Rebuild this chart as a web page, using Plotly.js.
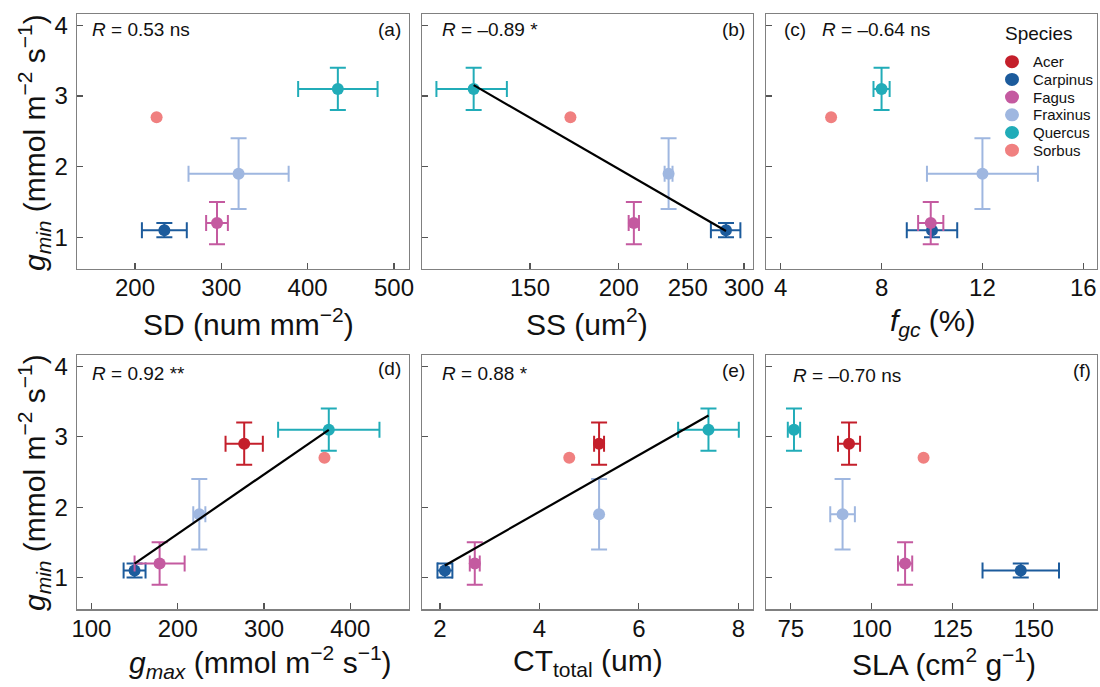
<!DOCTYPE html>
<html>
<head>
<meta charset="utf-8">
<script src="https://cdn.plot.ly/plotly-3.0.1.min.js"></script>
<style>
  html, body { margin: 0; padding: 0; background: #ffffff; }
  #chart { width: 1100px; height: 687px; }
</style>
</head>
<body>
<div id="chart"></div>
<script>
// Species and their colours
const species = ['Acer', 'Carpinus', 'Fagus', 'Fraxinus', 'Quercus', 'Sorbus'];
const speciesColors = ['#c41f2b', '#1c5b9c', '#c45aa0', '#9fb7e0', '#21acb8', '#f08080'];

// Minimum leaf conductance (response variable) with its error
const gmin    = [2.9, 1.1, 1.2, 1.9, 3.1, 2.7];
const gminErr = [0.3, 0.1, 0.3, 0.5, 0.3, null];

// Stomatal density (num mm-2)
const SD    = [null, 234, 295, 320, 435, 225];
const SDErr = [null, 26, 12.6, 58, 46, null];

// Stomatal size (um2)
const SS    = [null, 283, 210, 235, 125, 171];
const SSErr = [null, 13.5, 3.5, 3, 14.2, null];

// Fraction of guard cell (%)
const fgc    = [null, 10.0, 9.95, 12.0, 8.0, 6.0];
const fgcErr = [null, 1.0, 0.5, 2.2, 0.32, null];

// Maximum stomatal conductance (mmol m-2 s-1)
const gmax    = [277, 150, 179, 225, 375, 370];
const gmaxErr = [21.6, 12.7, 29, 7, 58.7, null];

// Total cuticle thickness (um)
const CT    = [5.2, 2.1, 2.7, 5.2, 7.4, 4.6];
const CTErr = [0.1, 0.15, 0.1, 0, 0.61, null];

// Specific leaf area (cm2 g-1)
const SLA    = [93, 146, 110.3, 91, 76, 116];
const SLAErr = [3.4, 11.8, 2.2, 3.8, 1.9, null];

// Correlation statistics and panel tags
const panelTags = ['(a)', '(b)', '(c)', '(d)', '(e)', '(f)'];
const rText = ['0.53 ns', '\u20130.89 *', '\u20130.64 ns', '0.92 **', '0.88 *', '\u20130.70 ns'];

// Tick values of each x axis
const ticksSD  = [200, 300, 400, 500];
const ticksSS  = [150, 200, 250, 300];
const ticksFgc = [4, 8, 12, 16];
const ticksGmax = [100, 200, 300, 400];
const ticksCT  = [2, 4, 6, 8];
const ticksSLA = [75, 100, 125, 150];
const ticksGmin = [1, 2, 3, 4];

const FONT = 'Liberation Sans, Arial, Helvetica, sans-serif';
const TXT = '#111111';
const W = 1100, H = 687;

const panels = [
  { x: SD,   ex: SDErr,   fit: null },
  { x: SS,   ex: SSErr,   fit: 'log' },
  { x: fgc,  ex: fgcErr,  fit: null },
  { x: gmax, ex: gmaxErr, fit: 'lin' },
  { x: CT,   ex: CTErr,   fit: 'lin' },
  { x: SLA,  ex: SLAErr,  fit: null }
];

// least-squares line of gmin on x (or log10 x), spanning the observed x range
function fitLine(xs, ys, mode) {
  const px = [], py = [];
  xs.forEach((v, i) => { if (v != null) { px.push(v); py.push(ys[i]); } });
  const tx = px.map(v => mode === 'log' ? Math.log10(v) : v);
  const n = tx.length;
  const mx = tx.reduce((a, b) => a + b, 0) / n;
  const my = py.reduce((a, b) => a + b, 0) / n;
  let sxy = 0, sxx = 0;
  for (let i = 0; i < n; i++) { sxy += (tx[i] - mx) * (py[i] - my); sxx += (tx[i] - mx) ** 2; }
  const b = sxy / sxx, a = my - b * mx;
  const lo = Math.min(...px), hi = Math.max(...px);
  const f = v => a + b * (mode === 'log' ? Math.log10(v) : v);
  return { x: [lo, hi], y: [f(lo), f(hi)] };
}

const traces = [];
panels.forEach((p, k) => {
  const xa = k === 0 ? 'x' : 'x' + (k + 1);
  const ya = k === 0 ? 'y' : 'y' + (k + 1);
  species.forEach((sp, i) => {
    if (p.x[i] == null) return;
    const hasErr = p.ex[i] != null;
    traces.push({
      type: 'scatter', mode: 'markers',
      x: [p.x[i]], y: [gmin[i]],
      xaxis: xa, yaxis: ya,
      name: sp, showlegend: false,
      marker: { color: speciesColors[i], size: 12, line: { width: 0 } },
      error_x: { type: 'data', array: [hasErr ? p.ex[i] : 0], visible: hasErr,
                 color: speciesColors[i], thickness: 2, width: 8 },
      error_y: { type: 'data', array: [gminErr[i] != null ? gminErr[i] : 0], visible: gminErr[i] != null,
                 color: speciesColors[i], thickness: 2, width: 8 },
      hoverinfo: 'skip'
    });
  });
  if (p.fit) {
    const l = fitLine(p.x, gmin, p.fit);
    traces.push({
      type: 'scatter', mode: 'lines', x: l.x, y: l.y, xaxis: xa, yaxis: ya,
      line: { color: '#000000', width: 2.2 }, showlegend: false, hoverinfo: 'skip'
    });
  }
});

const colDom = [[0.0700, 0.3718], [0.3836, 0.6843], [0.6964, 0.9970]];
const rowDom = [[0.6084, 0.9796], [0.1131, 0.4833]];

function axisBase() {
  return {
    showgrid: false, zeroline: false,
    showline: true, mirror: true, linecolor: '#808080', linewidth: 1.4,
    ticks: 'inside', ticklen: 6, tickwidth: 1.2, tickcolor: '#555555',
    tickmode: 'array',
    tickfont: { family: FONT, size: 24, color: TXT },
    fixedrange: true
  };
}

const xRanges = [[132.8, 517.4], [2.0242, 2.4894], [3.42, 16.53], [83.3, 467.9], [1.638, 8.29], [67.38, 169.44]];
const xTicks = [ticksSD, ticksSS, ticksFgc, ticksGmax, ticksCT, ticksSLA];

const layout = {
  width: W, height: H,
  margin: { l: 0, r: 0, t: 0, b: 0 },
  paper_bgcolor: '#ffffff', plot_bgcolor: '#ffffff',
  font: { family: FONT, color: TXT },
  showlegend: false,
  annotations: [],
  shapes: []
};

for (let k = 0; k < 6; k++) {
  const sfx = k === 0 ? '' : String(k + 1);
  const col = k % 3, row = Math.floor(k / 3);
  layout['xaxis' + sfx] = Object.assign(axisBase(), {
    domain: colDom[col], anchor: 'y' + sfx, range: xRanges[k], tickvals: xTicks[k],
    type: k === 1 ? 'log' : 'linear', ticklabelstandoff: -3
  });
  layout['yaxis' + sfx] = Object.assign(axisBase(), {
    domain: rowDom[row], anchor: 'x' + sfx, range: [0.55, 4.16], tickvals: ticksGmin,
    showticklabels: col === 0, ticklabelstandoff: 3
  });
}

// axis titles
const yTitle = '<i>g</i><sub><i>min</i></sub> (mmol m<sup>\u22122</sup> s<sup>\u22121</sup>)';
const xTitles = [
  'SD (num mm<sup>\u22122</sup>)',
  'SS (um<sup>2</sup>)',
  '<i>f</i><sub><i>gc</i></sub> (%)',
  '<i>g</i><sub><i>max</i></sub> (mmol m<sup>\u22122</sup> s<sup>\u22121</sup>)',
  'CT<sub>total</sub> (um)',
  'SLA (cm<sup>2</sup> g<sup>\u22121</sup>)'
];
const xTitleCx = [249, 587, 933, 260, 587.5, 944];
const xTitleCy = [322, 322, 322, 662, 662, 662];
xTitles.forEach((t, k) => {
  layout.annotations.push({
    xref: 'paper', yref: 'paper', x: xTitleCx[k] / W, y: 1 - xTitleCy[k] / H,
    xanchor: 'center', yanchor: 'middle', showarrow: false, text: t,
    font: { family: FONT, size: 30, color: TXT }
  });
});
[143, 483].forEach(cy => {
  layout.annotations.push({
    xref: 'paper', yref: 'paper', x: 34 / W, y: 1 - cy / H,
    xanchor: 'center', yanchor: 'middle', textangle: -90, showarrow: false, text: yTitle,
    font: { family: FONT, size: 30, color: TXT }
  });
});

// correlation labels and panel tags
const rX = [90, 440, 820, 90, 440, 790.7];
const rY = [30, 30, 30, 373, 373, 375];
const tagX = [403, 746.7, 782, 403, 746.7, 1093];
const tagY = [30, 30, 30, 368, 370, 370];
for (let k = 0; k < 6; k++) {
  layout.annotations.push({
    xref: 'paper', yref: 'paper', x: rX[k] / W, y: 1 - rY[k] / H,
    xanchor: 'left', yanchor: 'middle', showarrow: false,
    text: '<i>R</i> = ' + rText[k],
    font: { family: FONT, size: 19, color: TXT }
  });
  layout.annotations.push({
    xref: 'paper', yref: 'paper', x: tagX[k] / W, y: 1 - tagY[k] / H,
    xanchor: k === 2 ? 'left' : 'right', yanchor: 'middle', showarrow: false,
    text: panelTags[k],
    font: { family: FONT, size: 19, color: TXT }
  });
}

// species key inside panel (c)
const keyLeft = 1003, keyTitleY = 33, keyMarkX = 1012, keyTextX = 1031, keyRow0 = 61.7, keyStep = 17.7;
layout.annotations.push({
  xref: 'paper', yref: 'paper', x: keyLeft / W, y: 1 - keyTitleY / H,
  xanchor: 'left', yanchor: 'middle', showarrow: false, text: 'Species',
  font: { family: FONT, size: 19, color: TXT }
});
species.forEach((sp, i) => {
  const yy = 1 - (keyRow0 + i * keyStep) / H;
  layout.shapes.push({
    type: 'circle', xref: 'paper', yref: 'paper',
    xsizemode: 'pixel', ysizemode: 'pixel', xanchor: keyMarkX / W, yanchor: yy,
    x0: -7, x1: 7, y0: -6.5, y1: 6.5,
    fillcolor: speciesColors[i], line: { width: 0 }
  });
  layout.annotations.push({
    xref: 'paper', yref: 'paper', x: keyTextX / W, y: yy,
    xanchor: 'left', yanchor: 'middle', showarrow: false, text: sp,
    font: { family: FONT, size: 15, color: TXT }
  });
});

Plotly.newPlot('chart', traces, layout, { staticPlot: true, displayModeBar: false });
</script>
</body>
</html>
